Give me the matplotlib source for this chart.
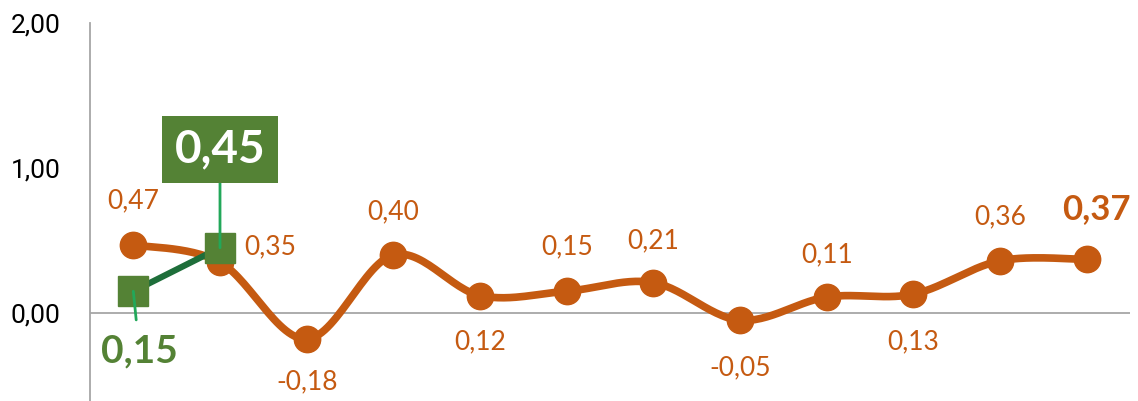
import numpy as np
import matplotlib.pyplot as plt
from matplotlib import font_manager

orange_vals = [0.47, 0.35, -0.18, 0.40, 0.12, 0.15, 0.21, -0.05, 0.11, 0.13, 0.36, 0.37]
green_vals = [0.15, 0.45]
y_ticks = [0.0, 1.0, 2.0]
y_tick_labels = ["0,00", "1,00", "2,00"]

ORANGE = "#C55A11"
GREEN = "#548235"
DARK_GREEN = "#1E6E3A"
LEADER = "#22A85A"


def smooth(xs, ys, n=30):
    # excel-like smoothed line: cubic bezier with catmull-rom control points
    xs = np.asarray(xs, float)
    ys = np.asarray(ys, float)
    px = np.concatenate([[xs[0]], xs, [xs[-1]]])
    py = np.concatenate([[ys[0]], ys, [ys[-1]]])
    out_x, out_y = [], []
    t = np.linspace(0, 1, n)
    for i in range(1, len(px) - 2):
        p0 = np.array([px[i], py[i]])
        p3 = np.array([px[i + 1], py[i + 1]])
        c1 = p0 + (p3 - np.array([px[i - 1], py[i - 1]])) / 6
        c2 = p3 - (np.array([px[i + 2], py[i + 2]]) - p0) / 6
        b = ((1 - t) ** 3)[:, None] * p0 + (3 * (1 - t) ** 2 * t)[:, None] * c1 \
            + (3 * (1 - t) * t ** 2)[:, None] * c2 + (t ** 3)[:, None] * p3
        out_x.extend(b[:, 0])
        out_y.extend(b[:, 1])
    return out_x, out_y


def fmt(v):
    return f"{v:.2f}".replace(".", ",")


plt.rcParams['font.family'] = ['Lato', 'DejaVu Sans']
names = {f.name for f in font_manager.fontManager.ttflist}
tick_font = 'Liberation Sans Narrow' if 'Liberation Sans Narrow' in names else 'Roboto'

fig = plt.figure(figsize=(11.38, 4.01), dpi=100)
ax = fig.add_axes([90 / 1138, 0, (1130 - 90) / 1138, 1 - 23 / 401])

x = np.arange(len(orange_vals))
sx, sy = smooth(x, orange_vals)
ax.plot(sx, sy, color=ORANGE, lw=5.5, solid_capstyle='round', zorder=3)
ax.plot(x, orange_vals, 'o', color=ORANGE, ms=19, zorder=4)

xg = np.arange(len(green_vals))
ax.plot(xg, green_vals, color=DARK_GREEN, lw=4.5, zorder=5)
ax.plot(xg, green_vals, 's', color=GREEN, ms=22, zorder=6)

# orange value labels (offset in pixels)
offsets = [(0, 44), (50, 15), (0, -43), (0, 43), (0, -46), (0, 44),
           (0, 42), (0, -48), (0, 42), (0, -48), (0, 44)]
for i, (dx, dy) in enumerate(offsets):
    ax.annotate(fmt(orange_vals[i]), (x[i], orange_vals[i]),
                xytext=(dx, dy), textcoords='offset pixels', ha='center', va='center',
                color=ORANGE, fontsize=19, zorder=7)
ax.annotate(fmt(orange_vals[-1]), (x[-1], orange_vals[-1]),
            xytext=(10, 50), textcoords='offset pixels', ha='center', va='center',
            color=ORANGE, fontsize=25, fontweight='bold', zorder=7)

# green labels with leader lines
ax.annotate(fmt(green_vals[1]), (xg[1], green_vals[1]),
            xytext=(0, 98), textcoords='offset pixels', ha='center', va='center',
            color='white', fontsize=33, fontweight='bold', zorder=8,
            bbox=dict(boxstyle='square,pad=0.27', fc=GREEN, ec='none'),
            arrowprops=dict(arrowstyle='-', color=LEADER, lw=2, shrinkA=0, shrinkB=0))
ax.annotate(fmt(green_vals[0]), (xg[0], green_vals[0]),
            xytext=(6, -60), textcoords='offset pixels', ha='center', va='center',
            color=GREEN, fontsize=28, fontweight='bold', zorder=8,
            arrowprops=dict(arrowstyle='-', color=LEADER, lw=2, shrinkA=8, shrinkB=0))

ax.set_xlim(-0.5, len(orange_vals) - 0.5)
ax.set_ylim(-0.607, 2.0)
ax.axhline(0, color='#A6A6A6', lw=1.3, zorder=1)
ax.set_yticks(y_ticks)
ax.set_yticklabels(y_tick_labels, family=[tick_font, 'DejaVu Sans'], fontsize=19)
ax.tick_params(axis='y', length=0, pad=21)
ax.set_xticks([])
for s in ['top', 'right', 'bottom']:
    ax.spines[s].set_visible(False)
ax.spines['left'].set_color('#A6A6A6')
ax.spines['left'].set_linewidth(1.3)
ax.patch.set_visible(False)

fig.savefig('out.png', dpi=100)
